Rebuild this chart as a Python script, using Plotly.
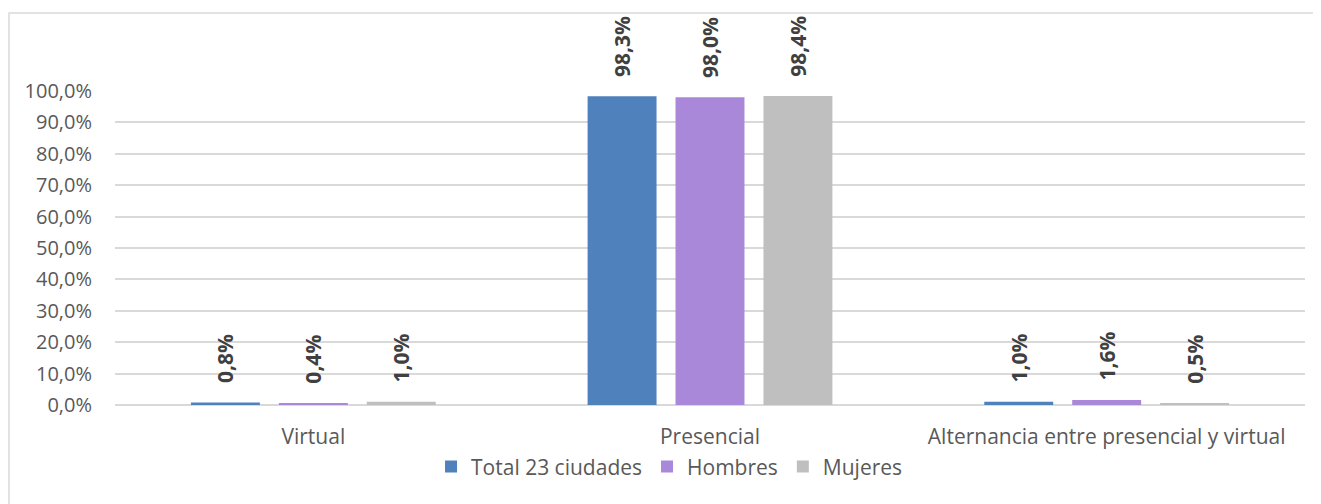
import plotly.graph_objects as go

categories = ["Virtual", "Presencial", "Alternancia entre presencial y virtual"]
series_names = ["Total 23 ciudades", "Hombres", "Mujeres"]
total = [0.8, 98.3, 1.0]
hombres = [0.4, 98.0, 1.6]
mujeres = [1.0, 98.4, 0.5]
colors = ["#4F81BD", "#A988DA", "#BFBFBF"]
y_ticks = [0, 10, 20, 30, 40, 50, 60, 70, 80, 90, 100]

def fmt(v):
    return f"{v:.1f}%".replace(".", ",")

PAD = "\u00a0\u00a0\u00a0"  # visual gap between bar end and its label
FONT = "Open Sans"
fig = go.Figure()
for name, vals, col in zip(series_names, [total, hombres, mujeres], colors):
    fig.add_trace(go.Bar(
        x=categories, y=vals, name=name, marker_color=col, marker_line_width=0,
        text=[PAD + fmt(v) for v in vals], textposition="outside", textangle=-90,
        constraintext="none", cliponaxis=False,
        textfont=dict(family=FONT, size=21, color="#404040", weight="bold"),
    ))

# page body has an 8px margin: figure drawn at (8, 8)
FW, FH = 1313, 496
L, R, T, B = 107, 16, 83, 99
fig.update_layout(
    width=FW, height=FH,
    margin=dict(l=L, r=R, t=T, b=B),
    paper_bgcolor="white", plot_bgcolor="white",
    barmode="group", bargap=0.335, bargroupgap=0.216,
    font=dict(family=FONT, size=20, color="#595959"),
    showlegend=True,
    legend=dict(orientation="h", x=0.466, xanchor="center", y=-0.197, yanchor="middle",
                font=dict(size=21, color="#595959"), itemwidth=30, traceorder="normal"),
    xaxis=dict(showgrid=False, showline=False, ticks="outside", ticklen=13, tickcolor="white",
               tickfont=dict(size=21)),
    yaxis=dict(range=[0, 100], tickvals=y_ticks, ticktext=[fmt(v) for v in y_ticks],
               showgrid=True, gridcolor="#D9D9D9", gridwidth=1.5, zeroline=True,
               zerolinecolor="#D9D9D9", zerolinewidth=1.5, showline=False,
               ticks="outside", ticklen=18, tickcolor="white", tickfont=dict(size=20)),
)
W = FW - L - R
H = FH - T - B
fig.add_shape(type="rect", xref="paper", yref="paper",
              x0=(1 - L) / W, x1=(1312 - L) / W, y0=(FH - B - 510) / H, y1=(FH - B - 5) / H,
              line=dict(color="#D9D9D9", width=1.5), fillcolor="rgba(0,0,0,0)", layer="below")
fig.write_html("out.html")
